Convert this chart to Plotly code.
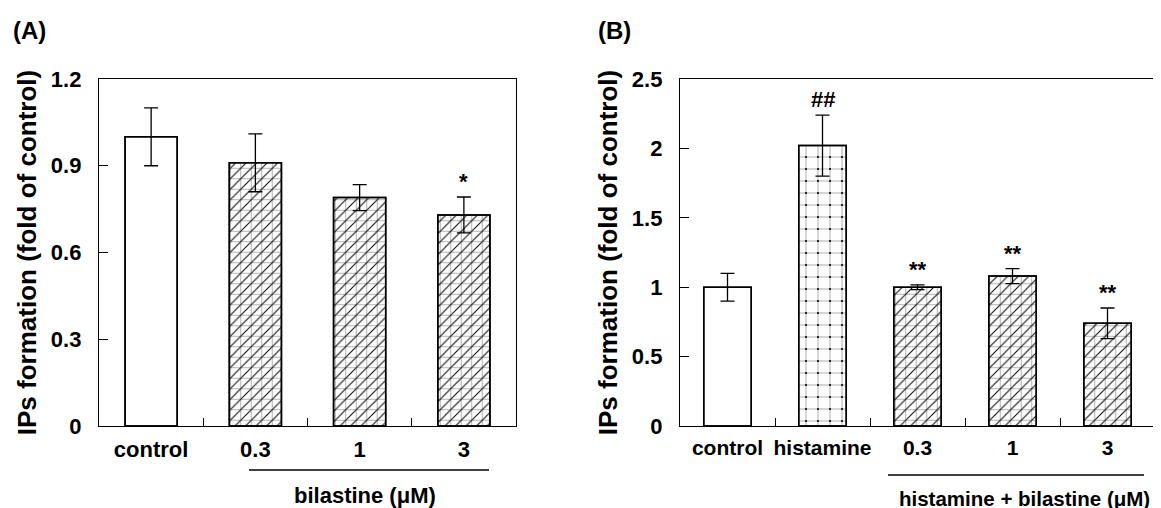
import plotly.graph_objects as go

# ---- data ----
a_categories = ["control", "0.3", "1", "3"]
a_values = [1.00, 0.91, 0.79, 0.73]
a_errors = [0.10, 0.10, 0.045, 0.062]
a_marks = ["", "", "", "*"]
a_grid = ["", "+", "+", "+"]
a_top = ["", "/", "/", "/"]

b_categories = ["control", "histamine", "0.3", "1", "3"]
b_values = [1.00, 2.02, 1.00, 1.08, 0.74]
b_errors = [0.10, 0.22, 0.017, 0.054, 0.11]
b_marks = ["", "##", "**", "**", "**"]
b_grid = ["", "+", "+", "+", "+"]
b_top = ["", ".", "/", "/", "/"]

a_yticks = [0, 0.3, 0.6, 0.9, 1.2]
a_yticktext = ["0", "0.3", "0.6", "0.9", "1.2"]
b_yticks = [0, 0.5, 1, 1.5, 2, 2.5]
b_yticktext = ["0", "0.5", "1", "1.5", "2", "2.5"]

y_title = "IPs formation (fold of control)"

FONT = "Liberation Sans, Arial, Helvetica, sans-serif"
W, H = 1161, 508

HATCH = 10.5        # grid cell in px
DOTCELL = 12.0


def top_sizes(shapes):
    out = []
    for s in shapes:
        if s == "/":
            out.append(HATCH / 2 ** 0.5)
        elif s == ".":
            out.append(DOTCELL)
        else:
            out.append(8)
    return out


def top_solid(shapes):
    out = []
    for s in shapes:
        if s == "/":
            out.append(1.0 / (HATCH / 2 ** 0.5))
        elif s == ".":
            out.append(0.025)
        else:
            out.append(0.1)
    return out


def grid_cells(top_shapes):
    return [DOTCELL if s == "." else HATCH for s in top_shapes]


fig = go.Figure()


def add_panel(cats, vals, errs, grid, top, xa, ya):
    cells = grid_cells(top)
    fig.add_trace(go.Bar(
        x=cats, y=vals, width=0.5, xaxis=xa, yaxis=ya, showlegend=False,
        marker=dict(
            color="white",
            line=dict(color="black", width=1.5),
            pattern=dict(
                shape=grid, fgcolor="#b0b0b0", bgcolor="white",
                size=cells,
                solidity=[1 - (1 - 1.0 / c) ** 2 for c in cells],
                fillmode="replace",
            ),
        ),
        hoverinfo="skip",
    ))
    fig.add_trace(go.Bar(
        x=cats, y=vals, width=0.5, xaxis=xa, yaxis=ya, showlegend=False,
        marker=dict(
            color="rgba(0,0,0,0)",
            line=dict(color="black", width=1.5),
            pattern=dict(
                shape=top, fgcolor="black", bgcolor="rgba(0,0,0,0)",
                size=top_sizes(top), solidity=top_solid(top),
                fillmode="replace",
            ),
        ),
        error_y=dict(type="data", array=errs, visible=True,
                     color="black", thickness=1.3, width=7),
    ))


add_panel(a_categories, a_values, a_errors, a_grid, a_top, "x", "y")
add_panel(b_categories, b_values, b_errors, b_grid, b_top, "x2", "y2")

bold = dict(family=FONT, size=22, color="black", weight="bold")

annotations = []
for vals, errs, marks, xr, yr in [
    (a_values, a_errors, a_marks, "x", "y"),
    (b_values, b_errors, b_marks, "x2", "y2"),
]:
    for i, (v, e, m) in enumerate(zip(vals, errs, marks)):
        if m:
            annotations.append(dict(
                x=i, y=v + e, xref=xr, yref=yr, text=m, showarrow=False,
                yanchor="bottom", yshift=1, font=bold,
            ))

annotations += [
    dict(x=3 / W, y=1 - 22 / H, xref="paper", yref="paper", text="(A)",
         showarrow=False, xanchor="left", yanchor="middle",
         font=dict(family=FONT, size=24, color="black", weight="bold")),
    dict(x=588 / W, y=1 - 22 / H, xref="paper", yref="paper", text="(B)",
         showarrow=False, xanchor="left", yanchor="middle",
         font=dict(family=FONT, size=24, color="black", weight="bold")),
    dict(x=357 / W, y=1 - 487 / H, xref="paper", yref="paper",
         text="bilastine (μM)", showarrow=False, xanchor="center",
         yanchor="middle", font=bold),
    dict(x=1016 / W, y=1 - 490 / H, xref="paper", yref="paper",
         text="histamine + bilastine (μM)", showarrow=False,
         xanchor="center", yanchor="middle",
         font=dict(family=FONT, size=20.5, color="black", weight="bold")),
]

shapes = [
    dict(type="line", xref="paper", yref="paper",
         x0=241 / W, x1=481 / W, y0=1 - 462 / H, y1=1 - 462 / H,
         line=dict(color="black", width=1.5)),
    dict(type="line", xref="paper", yref="paper",
         x0=880 / W, x1=1136 / W, y0=1 - 467 / H, y1=1 - 467 / H,
         line=dict(color="black", width=1.5)),
]

ydom = [1 - 418 / H, 1 - 71 / H]
common_x = dict(
    type="category", showline=True, mirror=True, linecolor="black",
    linewidth=1.3, ticks="inside", tickson="boundaries", ticklen=8,
    tickcolor="black", tickwidth=1, showgrid=False, zeroline=False,
    ticklabelstandoff=3, tickangle=0, automargin=False,
    fixedrange=True,
)
title_font = dict(family=FONT, size=26, color="black", weight="bold")
common_y = dict(
    showline=True, mirror=True, linecolor="black", linewidth=1.3,
    ticks="inside", ticklen=9, tickcolor="black", tickwidth=1,
    showgrid=False, zeroline=False, tickfont=bold, ticklabelstandoff=12,
    automargin=False, fixedrange=True,
)

fig.update_layout(
    width=W, height=H,
    margin=dict(l=0, r=0, t=0, b=0),
    paper_bgcolor="white", plot_bgcolor="white",
    barmode="overlay",
    xaxis=dict(domain=[91 / W, 508 / W], anchor="y", tickfont=bold,
               **common_x),
    yaxis=dict(domain=ydom, anchor="x", range=[0, 1.2],
               tickvals=a_yticks, ticktext=a_yticktext,
               title=dict(text=y_title, font=title_font, standoff=6),
               **common_y),
    xaxis2=dict(domain=[672 / W, 1147 / W], anchor="y2",
                tickfont=dict(family=FONT, size=21, color="black",
                              weight="bold"),
                **common_x),
    yaxis2=dict(domain=ydom, anchor="x2", range=[0, 2.5],
                tickvals=b_yticks, ticktext=b_yticktext,
                title=dict(text=y_title, font=title_font, standoff=6),
                **common_y),
    annotations=annotations,
    shapes=shapes,
    font=dict(family=FONT),
)

fig.write_html("out.html")
